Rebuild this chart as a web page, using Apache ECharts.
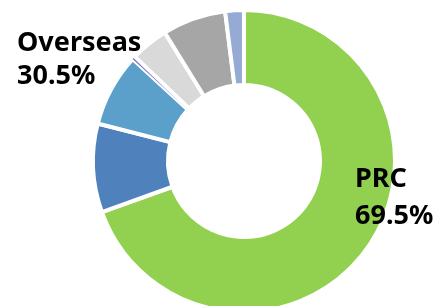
<!DOCTYPE html>
<html>
<head>
<meta charset="utf-8">
<script src="https://cdn.jsdelivr.net/npm/echarts@6/dist/echarts.min.js"></script>
<style>
  html, body { margin: 0; padding: 0; background: #fff; }
  #chart { width: 436px; height: 306px; }
</style>
</head>
<body>
<div id="chart"></div>
<script>
// slices, clockwise from 12 o'clock (share in %)
var sliceNames = ["PRC", "Region A", "Region B", "Region C", "Region D", "Region E", "Region F"];
var sliceValues = [69.5, 9.5, 7.8, 0.35, 4.05, 6.8, 2.0];
var sliceColors = ["#92D050", "#4F81BD", "#5B9FCB", "#7F6DBE", "#D9D9D9", "#A6A6A6", "#95ABD4"];

// summary labels
var groupNames = ["PRC", "Overseas"];
var groupShares = [69.5, 30.5];

var chart = echarts.init(document.getElementById("chart"));

var pieData = sliceNames.map(function (name, i) {
  var item = { name: name, value: sliceValues[i], itemStyle: { color: sliceColors[i] } };
  if (sliceValues[i] < 1) {
    // tiny sliver: thin own-colour edge instead of the white gap
    item.itemStyle.borderColor = "#fff";
    item.itemStyle.borderWidth = 0;
  }
  return item;
});

function label(text, x, y) {
  return {
    type: "text",
    left: x,
    top: y,
    z: 100,
    style: {
      text: text,
      fontFamily: "Noto Sans",
      fontWeight: 700,
      fontSize: 27,
      fill: "#000",
    },
  };
}

var option = {
  animation: false,
  series: [
    {
      type: "pie",
      center: [244, 161],
      radius: [76, 151],
      startAngle: 90,
      clockwise: true,
      label: { show: false },
      labelLine: { show: false },
      emphasis: { disabled: true },
      itemStyle: { borderColor: "#fff", borderWidth: 4 },
      data: pieData,
    },
  ],
  graphic: [
    label(groupNames[1], 17, 30),
    label(groupShares[1].toFixed(1) + "%", 17, 63),
    label(groupNames[0], 355, 166),
    label(groupShares[0].toFixed(1) + "%", 355, 203),
  ],
};

chart.setOption(option);
</script>
</body>
</html>
